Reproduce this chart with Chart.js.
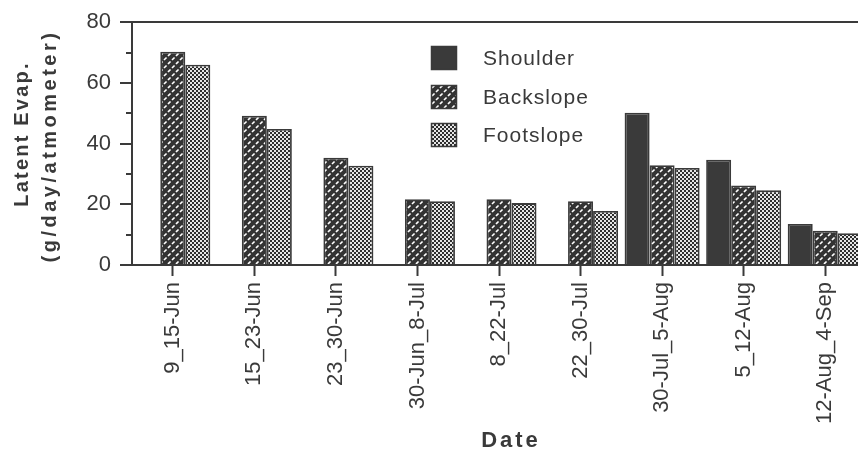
<!DOCTYPE html>
<html>
<head>
<meta charset="utf-8">
<script src="https://cdn.jsdelivr.net/npm/chart.js@4"></script>
<style>
  html, body { margin: 0; background: #fff; overflow: hidden; width: 858px; height: 452px; }
</style>
</head>
<body>
<canvas id="evap" width="866" height="452"></canvas>
<script>
const dates = ["9_15-Jun", "15_23-Jun", "23_30-Jun", "30-Jun_8-Jul", "8_22-Jul",
    "22_30-Jul", "30-Jul_5-Aug", "5_12-Aug", "12-Aug_4-Sep"];
const shoulder = [null, null, null, null, null, null, 50.2, 34.7, 13.5];
const backslope = [70.3, 49.2, 35.3, 21.7, 21.7, 21.0, 32.9, 26.2, 11.3];
const footslope = [66.0, 44.8, 32.7, 21.0, 20.4, 17.8, 32.0, 24.6, 10.5];
const yTicks = [0, 20, 40, 60, 80];

const ink = "#3a3a3a";
const font = "'Liberation Sans', Arial, sans-serif";

let canvas = document.getElementById("evap");
let ctx = canvas.getContext("2d");

// fill patterns for the three slope positions
function tile(size, draw) {
    let c = document.createElement("canvas");
    c.width = size; c.height = size;
    let g = c.getContext("2d");
    draw(g, size);
    return ctx.createPattern(c, "repeat");
}
let hatch = tile(8, function(g, s) {
    g.fillStyle = "#333";
    g.fillRect(0, 0, s, s);
    g.strokeStyle = "#fff";
    g.lineWidth = 1.6;
    g.setLineDash([3.6, 2.06]);
    [[-4, 12, 12, -4], [-4, 4, 4, -4], [4, 12, 12, 4]].forEach(function(l) {
        g.beginPath(); g.moveTo(l[0], l[1]); g.lineTo(l[2], l[3]); g.stroke();
    });
});
let checker = tile(4, function(g, s) {
    g.fillStyle = "#2e2e2e";
    g.fillRect(0, 0, s, s);
    g.fillStyle = "#e6e6e6";
    g.fillRect(0, 0, 2, 2);
    g.fillRect(2, 2, 2, 2);
});

// legend drawn inside the plot, plus minor ticks and spaced axis titles
let extras = {
    id: "extras",
    afterDraw(chart) {
        let c = chart.ctx;
        let y = chart.scales.y;
        let area = chart.chartArea;
        c.save();
        c.strokeStyle = ink;
        c.lineWidth = 2;
        [10, 30, 50, 70].forEach(function(v) {
            let py = Math.round(y.getPixelForValue(v));
            c.beginPath(); c.moveTo(area.left - 6, py); c.lineTo(area.left, py); c.stroke();
        });

        let rows = [58, 97, 135];
        chart.data.datasets.forEach(function(ds, i) {
            c.fillStyle = ds.backgroundColor;
            c.fillRect(431, rows[i] - 12, 26, 24);
            c.strokeStyle = ink;
            c.lineWidth = 1.5;
            c.strokeRect(431.5, rows[i] - 11.5, 25, 23);
            c.fillStyle = ink;
            c.font = "21px " + font;
            c.letterSpacing = "1px";
            c.textBaseline = "middle";
            c.textAlign = "left";
            c.fillText(ds.label, 483, rows[i] + 1);
        });

        c.font = "bold 20px " + font;
        c.textAlign = "center";
        c.textBaseline = "middle";
        c.save();
        c.translate(22, 134);
        c.rotate(-Math.PI / 2);
        c.letterSpacing = "2.2px";
        c.fillText("Latent Evap.", 0, 0);
        c.restore();
        c.save();
        c.translate(50, 146);
        c.rotate(-Math.PI / 2);
        c.letterSpacing = "3.5px";
        c.fillText("(g/day/atmometer)", 0, 0);
        c.restore();

        c.font = "bold 22px " + font;
        c.letterSpacing = "3px";
        c.fillText("Date", 511, 441);
        c.restore();
    }
};

let chart = new Chart(canvas, {
    type: "bar",
    data: {
        labels: dates,
        datasets: [
            { label: "Shoulder", data: shoulder, backgroundColor: ink },
            { label: "Backslope", data: backslope, backgroundColor: hatch },
            { label: "Footslope", data: footslope, backgroundColor: checker }
        ]
    },
    options: {
        responsive: false,
        animation: false,
        layout: { padding: { top: 17, right: 0, left: 0, bottom: 0 } },
        datasets: {
            bar: {
                borderColor: ink,
                borderWidth: 1.8,
                categoryPercentage: 0.92,
                barPercentage: 1.0
            }
        },
        plugins: {
            legend: { display: false },
            tooltip: { enabled: false }
        },
        scales: {
            x: {
                afterFit(scale) { scale.height = 187; },
                grid: { offset: false, drawOnChartArea: false, tickLength: 11, tickColor: ink, tickWidth: 2 },
                border: { color: ink, width: 2 },
                ticks: {
                    color: ink,
                    font: { family: font, size: 22 },
                    minRotation: 90,
                    maxRotation: 90,
                    autoSkip: false,
                    padding: 6
                }
            },
            y: {
                min: 0,
                max: 80,
                afterFit(scale) { scale.width = 132; },
                afterBuildTicks(scale) {
                    scale.ticks = yTicks.map(function(v) { return { value: v }; });
                },
                grid: {
                    tickLength: 12,
                    tickColor: ink,
                    tickWidth: 2,
                    lineWidth: 2,
                    color: function(c) { return c.tick && c.tick.value === 80 ? ink : "transparent"; }
                },
                border: { color: ink, width: 2 },
                ticks: {
                    color: ink,
                    font: { family: font, size: 22 },
                    padding: 9
                }
            }
        }
    },
    plugins: [extras]
});
</script>
</body>
</html>
